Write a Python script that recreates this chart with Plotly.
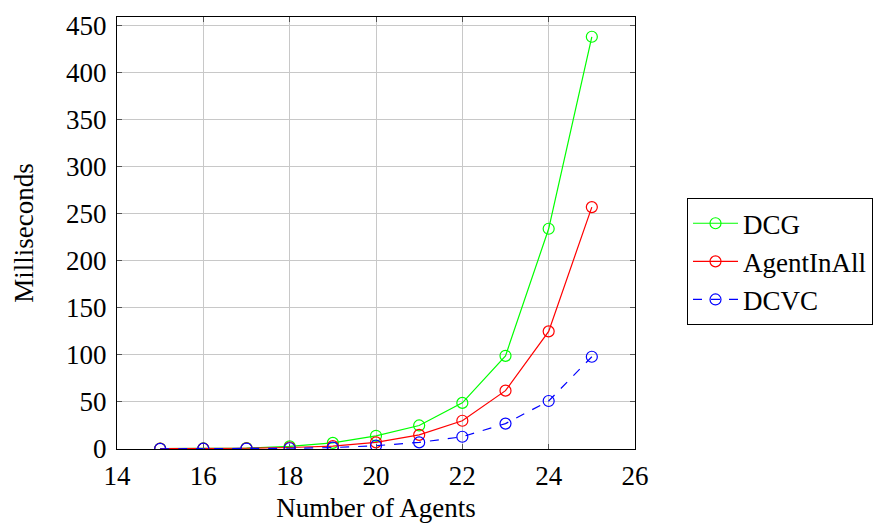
import plotly.graph_objects as go

agents = [15, 16, 17, 18, 19, 20, 21, 22, 23, 24, 25]
dcg_ms = [0.5, 0.6, 1.0, 2.8, 6.5, 14, 25, 49, 99, 234, 438]
agentinall_ms = [0.3, 0.4, 0.8, 1.6, 3.0, 7, 15, 30, 62, 125, 257]
dcvc_ms = [0.2, 0.3, 0.5, 0.8, 1.5, 3.5, 7, 13, 27, 51, 98]

series = [
    ("DCG", dcg_ms, "#00ff00", "solid"),
    ("AgentInAll", agentinall_ms, "#ff0000", "solid"),
    ("DCVC", dcvc_ms, "#0000ff", "dash"),
]

serif = "Liberation Serif"

fig = go.Figure()
for name, vals, color, dash in series:
    fig.add_trace(go.Scatter(
        x=agents, y=vals, name=name, mode="lines+markers",
        line=dict(color=color, width=1.2, dash=dash),
        marker=dict(symbol="circle-open", size=11, color=color,
                    line=dict(width=1.2, color=color)),
    ))

axis_common = dict(
    showline=True, linecolor="black", linewidth=1.2, mirror="ticks",
    ticks="inside", ticklen=5, tickcolor="#555555",
    showgrid=True, gridcolor="#c8c8c8", gridwidth=1,
    zeroline=False, automargin=False,
    tickfont=dict(family=serif, size=27, color="black"),
    title_font=dict(family=serif, size=27, color="black"),
)

fig.update_xaxes(range=[14, 26], dtick=2, title_text="Number of Agents",
                 title_standoff=15, ticklabelstandoff=2, **axis_common)
fig.update_yaxes(range=[0, 459], dtick=50, title_text="Milliseconds",
                 title_standoff=24, ticklabelstandoff=4, **axis_common)

fig.update_layout(
    width=882, height=523,
    margin=dict(l=117, r=247, t=17, b=74, autoexpand=False),
    paper_bgcolor="white", plot_bgcolor="white",
    font=dict(family=serif, size=27, color="black"),
    legend=dict(
        x=1.1, y=0.581, xanchor="left", yanchor="top",
        bordercolor="black", borderwidth=1.2, bgcolor="white",
        font=dict(family=serif, size=27, color="black"),
        itemwidth=45, tracegroupgap=0,
    ),
    showlegend=True,
)

fig.write_html("out.html")
